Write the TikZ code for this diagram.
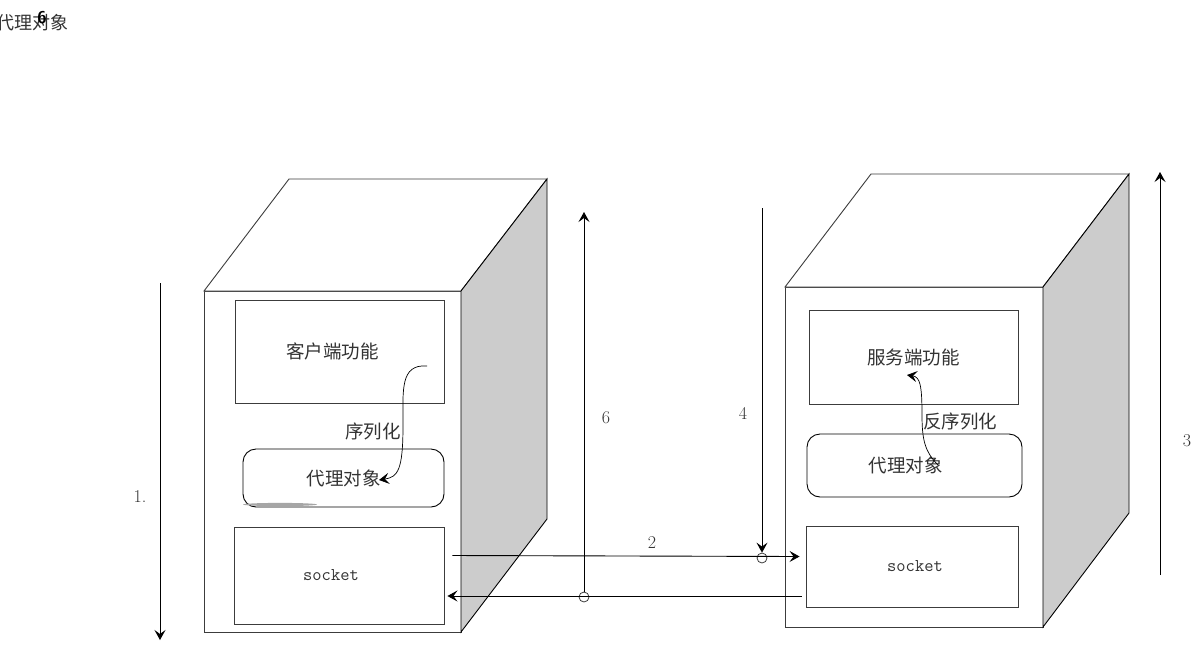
\documentclass[tikz,border=0pt]{standalone}
\usepackage{fontspec}
\usepackage{xcolor}
\usepackage{tikz}
\usetikzlibrary{arrows.meta,positioning,calc}
\newfontfamily\cjk{Noto Sans CJK SC}
\definecolor{linegray}{HTML}{3C3C3C}
\definecolor{sidegray}{HTML}{CCCCCC}
\definecolor{textgray}{HTML}{333333}
\tikzset{
  face/.style={draw=linegray, fill=white, line width=0.9pt},
  sideface/.style={draw=black, fill=sidegray, line width=0.9pt},
  funcbox/.style={draw=linegray, line width=0.9pt, fill=white, text=textgray, font=\cjk\fontsize{18.5}{21}\selectfont},
  proxybox/.style={draw=black, line width=0.9pt, rounded corners=13pt, fill=white, text=textgray, font=\cjk\fontsize{18.5}{21}\selectfont},
  sockbox/.style={draw=linegray, line width=0.9pt, fill=white, text=textgray, font=\ttfamily\fontsize{18}{21}\selectfont},
  arrow/.style={-{Stealth[length=10pt,width=11pt,inset=4pt]}, line width=0.9pt, draw=black},
  junction/.style={circle, draw=linegray, fill=white, line width=0.8pt, minimum size=10pt, inner sep=0pt},
  steplabel/.style={text=textgray, font=\fontsize{18}{21}\selectfont},
  cjklabel/.style={text=textgray, font=\cjk\fontsize{18.5}{21}\selectfont}
}

\begin{document}
\begin{tikzpicture}[x=1pt, y=-1pt]
  \useasboundingbox (0,0) rectangle (1202,646);

  % client machine
  \draw[face] (204,291) rectangle (461,632);
  \draw[face] (204,291) -- (289,179) -- (547,179) -- (461,291) -- cycle;
  \draw[sideface] (461,291) -- (547,179) -- (547,519) -- (461,632) -- cycle;

  % server machine
  \draw[face] (785,287) rectangle (1043,627);
  \draw[face] (785,287) -- (871,174) -- (1129,174) -- (1043,287) -- cycle;
  \draw[sideface] (1043,287) -- (1129,174) -- (1129,513) -- (1043,627) -- cycle;

  \node[funcbox, minimum width=209pt, minimum height=103pt] (clientfn) at (339.5,351.5) {\hspace*{-14pt}客户端功能};
  \node[proxybox, minimum width=201pt, minimum height=58pt] (cproxy) at (343.5,478) {代理对象};
  \node[sockbox, minimum width=210pt, minimum height=97pt] (csock) at (339,575.5) {\hspace*{-16pt}\raisebox{-2pt}{socket}};
  \fill[gray!70] (280,504.5) ellipse (37 and 1.6);

  \node[funcbox, minimum width=209pt, minimum height=94pt] (serverfn) at (913.5,357) {服务端功能};
  \node[proxybox, minimum width=215pt, minimum height=63pt] (sproxy) at (914.5,465.5) {\hspace*{-18pt}代理对象};
  \node[sockbox, minimum width=212pt, minimum height=81pt] (ssock) at (912,566.5) {\hspace*{6pt}\raisebox{-4pt}{socket}};

  % serialise / deserialise
  \coordinate (serfrom) at (427,366);
  \coordinate (serto) at (379,480);
  \draw[arrow, line width=0.7pt] (serfrom) .. controls (400,364) and (403,390) .. (403,425)
    .. controls (403,470) and (398,477) .. (serto);
  \node[cjklabel] (serlabel) at (373,431) {序列化};

  \coordinate (deserfrom) at (938,465);
  \coordinate (deserto) at (907,375);
  \draw[arrow, line width=0.7pt] (deserfrom) .. controls (925,452) and (922,440) .. (922,415)
    .. controls (922,385) and (920,377) .. (deserto);
  \node[cjklabel] (deserlabel) at (960,421) {反序列化};

  % request / response lines
  \node[junction] (j6) at (584,597) {};
  \node[junction] (j4) at (762,558) {};
  \coordinate (top6) at (584,212);
  \coordinate (top4) at (762,208);
  \draw[arrow] ([yshift=20pt]csock.east) ++(8,0) -- ([yshift=10pt, xshift=-6pt]ssock.west);
  \draw[arrow] ([yshift=-29.5pt, xshift=-4pt]ssock.west) -- ([yshift=-20.5pt, xshift=3pt]csock.east);
  \draw[arrow] (j6) -- (top6);
  \draw[arrow] (top4) -- (j4);

  \coordinate (top1) at (160,283);
  \coordinate (bot1) at (160,640);
  \coordinate (bot3) at (1160,575);
  \coordinate (top3) at (1160,172);
  \draw[arrow] (top1) -- (bot1);
  \draw[arrow] (bot3) -- (top3);

  \node[steplabel] (l1) at (140,497) {1.};
  \node[steplabel] (l2) at (652,543) {2};
  \node[steplabel] (l3) at (1187,441) {3};
  \node[steplabel] (l4) at (743,413) {4};
  \node[steplabel] (l6) at (606,418) {6};

  % stray label in the corner
  \node[text=textgray, font=\cjk\fontsize{18}{21}\selectfont] (corner) at (32,23) {代理对象};
  \node[font=\sffamily\bfseries\fontsize{17}{19}\selectfont] (cornernum) at (42,18) {6};
\end{tikzpicture}
\end{document}
